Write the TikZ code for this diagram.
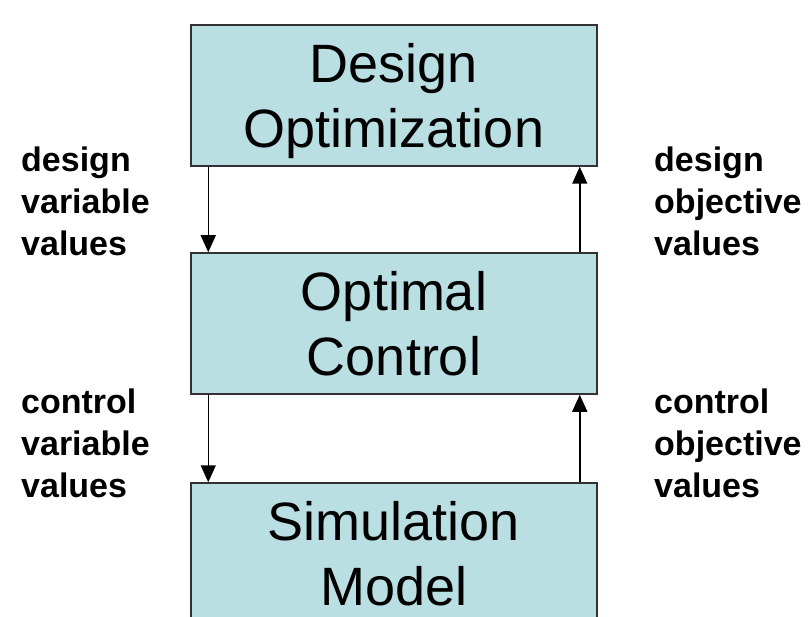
\documentclass[tikz,border=0pt]{standalone}
\usepackage{fontspec}
\setmainfont{Liberation Sans}
\usetikzlibrary{arrows.meta, positioning}

\definecolor{boxfill}{RGB}{186,223,227}
\definecolor{boxline}{RGB}{50,50,50}

\tikzset{
  stage/.style={draw=boxline, line width=1.5pt, fill=boxfill, inner sep=0pt,
    minimum width=406pt, minimum height=141pt, align=center, text depth=0pt,
    font={\fontsize{54}{65}\selectfont}},
  flowlabel/.style={anchor=north west, inner sep=0pt, align=left,
    font={\bfseries\fontsize{34}{42}\selectfont}},
  flow/.style={line width=1.5pt, -{Triangle[length=17pt, width=15pt]}}
}

\begin{document}
\begin{tikzpicture}[x=1pt, y=-1pt]
    \useasboundingbox (0,0) rectangle (808,617);

    \node[stage] (DO) at (394,95.5)  {Design\\Optimization};
    \node[stage] (OC) at (394,323.5) {Optimal\\Control};
    \node[stage] (SM) at (394,553.5) {Simulation\\Model};

    \node[flowlabel] (dv) at (21,147)  {design\\variable\\values};
    \node[flowlabel] (do) at (654,147) {design\\objective\\values};
    \node[flowlabel] (cv) at (21,389)  {control\\variable\\values};
    \node[flowlabel] (co) at (654,389) {control\\objective\\values};

    \draw[flow] ([xshift=18pt]DO.south west) -- ([xshift=18pt]OC.north west);
    \draw[flow] ([xshift=-18pt]OC.north east) -- ([xshift=-18pt]DO.south east);
    \draw[flow] ([xshift=18pt]OC.south west) -- ([xshift=18pt]SM.north west);
    \draw[flow] ([xshift=-18pt]SM.north east) -- ([xshift=-18pt]OC.south east);
\end{tikzpicture}
\end{document}
